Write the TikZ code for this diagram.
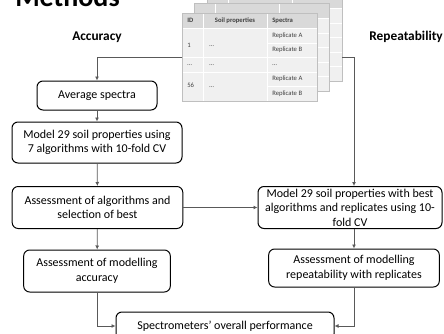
\documentclass[tikz,border=0pt]{standalone}
\usepackage{fontspec}
\setmainfont{Carlito}
\usetikzlibrary{arrows.meta, positioning, calc}
\definecolor{mygray}{RGB}{89,89,89}
\definecolor{tabline}{RGB}{191,191,191}
\definecolor{tabhead}{RGB}{217,217,217}
\definecolor{tabbody}{RGB}{240,240,240}
\definecolor{tabtext}{RGB}{64,64,64}
\tikzset{
  block/.style={rectangle, draw=black, fill=white, align=center,
    font=\fontsize{9}{10.9}\selectfont, rounded corners=4.5pt,
    line width=0.75pt, inner sep=0pt},
  arrow/.style={-{Latex[length=3pt,width=3pt]}, line width=0.6pt, color=mygray},
  heading/.style={font=\fontsize{10}{12}\selectfont\bfseries, inner sep=0pt}
}

\begin{document}
\begin{tikzpicture}[x=0.75pt, y=-0.75pt,
  cell/.style={font=\fontsize{5}{6}\selectfont, text=tabtext, inner sep=0pt, anchor=west},
  hcell/.style={cell, font=\fontsize{5}{6}\selectfont\bfseries}]

  \useasboundingbox (0,0) rectangle (444,333);
  \clip (0,0) rectangle (444,333);

  % Title and column headings
  \node[anchor=base west, font=\fontsize{21}{24}\selectfont\bfseries, inner sep=0pt] (title) at (15,6) {Methods};
  \node[heading] (acc) at (97,37) {Accuracy};
  \node[heading, anchor=east] (rep) at (443,37) {Repeatability};

  % Stacked data tables (back to front)
  \foreach \dx/\dy in {25/-20, 12.5/-10, 0/0} {
    \begin{scope}[shift={(\dx,\dy)}]
      \fill[tabbody] (182,28) rectangle (317,101);
      \fill[tabhead] (182,13) rectangle (317,28);
      \draw[white, line width=0.6pt] (203,13) -- (203,101) (267,13) -- (267,101)
        (182,28) -- (317,28) (267,43) -- (317,43) (182,57) -- (317,57)
        (182,72) -- (317,72) (267,86) -- (317,86);
      \draw[tabline, line width=0.5pt] (182,13) rectangle (317,101);
    \end{scope}
  }

  % Front table contents
  \node[hcell] (hid) at (187,20.5) {ID};
  \node[hcell, anchor=center] (hsoil) at (235,20.5) {Soil properties};
  \node[hcell] (hspec) at (272,20.5) {Spectra};
  \node[cell] (id1) at (187,45) {1};
  \node[cell] (soil1) at (209,46) {…};
  \node[cell] (ra1) at (272,35.5) {Replicate A};
  \node[cell] (rb1) at (272,50) {Replicate B};
  \node[cell] (iddots) at (187,65) {…};
  \node[cell] (soildots) at (209,65) {…};
  \node[cell] (specdots) at (272,65) {…};
  \node[cell] (id56) at (187,85) {56};
  \node[cell] (soil56) at (209,87) {…};
  \node[cell] (ra56) at (272,79) {Replicate A};
  \node[cell] (rb56) at (272,93.5) {Replicate B};

  \coordinate (tabL) at (182,57);
  \coordinate (tabR) at (342,57);

  % Accuracy branch
  \node[block, minimum width=90pt, minimum height=21.75pt] (avg) at (97,95.5) {Average spectra};
  \node[block, minimum width=127.5pt, minimum height=30.75pt] (mod) at (97,142.5) {Model 29 soil properties using\\7 algorithms with 10-fold CV};
  \node[block, minimum width=128pt, minimum height=31.5pt] (asel) at (97.5,207.5) {Assessment of algorithms and\\selection of best};
  \node[block, minimum width=110pt, minimum height=31.5pt] (aacc) at (97,271) {Assessment of modelling\\accuracy};

  % Repeatability branch
  \node[block, minimum width=138pt, minimum height=31.5pt] (mrep) at (350,207.5) {Model 29 soil properties with best\\algorithms and replicates using 10-\\fold CV};
  \node[block, minimum width=128pt, minimum height=28.5pt] (arep) at (354,268) {Assessment of modelling\\repeatability with replicates};

  % Overall
  \node[block, minimum width=163.5pt, minimum height=21pt] (spec) at (225,326) {Spectrometers’ overall performance};

  % Connections
  \draw[arrow] (tabL) -| (avg.north);
  \draw[arrow] (avg) -- (mod);
  \draw[arrow] (mod) -- (asel);
  \draw[arrow] (asel) -- (aacc);
  \draw[arrow] (asel.east) -- (mrep.west);
  \draw[arrow] (tabR) -| (arep.north |- mrep.north);
  \draw[arrow] (arep.north |- mrep.south) -- (arep.north);
  \draw[arrow] (aacc.south) |- (spec.west);
  \draw[arrow] (arep.south) |- (spec.east);

\end{tikzpicture}
\end{document}
